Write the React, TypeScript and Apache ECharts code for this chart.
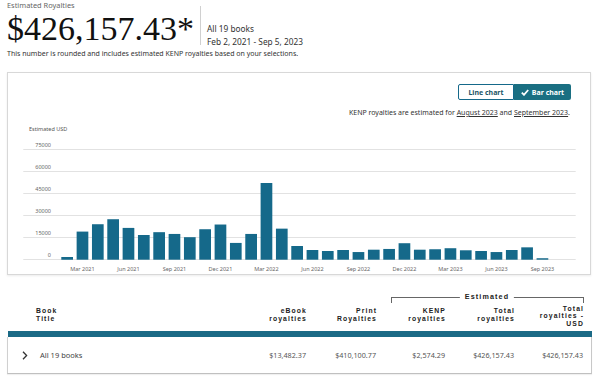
import React, { useEffect, useRef } from "react";
import * as echarts from "echarts";

const months = [
  "Feb 2021", "Mar 2021", "Apr 2021", "May 2021", "Jun 2021", "Jul 2021", "Aug 2021", "Sep 2021",
  "Oct 2021", "Nov 2021", "Dec 2021", "Jan 2022", "Feb 2022", "Mar 2022", "Apr 2022", "May 2022",
  "Jun 2022", "Jul 2022", "Aug 2022", "Sep 2022", "Oct 2022", "Nov 2022", "Dec 2022", "Jan 2023",
  "Feb 2023", "Mar 2023", "Apr 2023", "May 2023", "Jun 2023", "Jul 2023", "Aug 2023", "Sep 2023",
];
const royalties = [
  1800, 19100, 24100, 27500, 21600, 16800, 18700, 17500,
  15300, 20700, 23900, 11400, 17500, 52100, 21100, 9300,
  6600, 5900, 6600, 5200, 6800, 7300, 11200, 6800,
  7100, 7800, 6400, 5900, 5200, 6600, 8400, 1000,
];
const tickLabels = [
  "Mar 2021", "Jun 2021", "Sep 2021", "Dec 2021", "Mar 2022", "Jun 2022",
  "Sep 2022", "Dec 2022", "Mar 2023", "Jun 2023", "Sep 2023",
];
const yTicks = [0, 15000, 30000, 45000, 60000, 75000];

const tableHeaders = [
  { lines: ["eBook", "royalties"], right: 306 },
  { lines: ["Print", "Royalties"], right: 376 },
  { lines: ["KENP", "royalties"], right: 445 },
  { lines: ["Total", "royalties"], right: 514 },
  { lines: ["Total", "royalties -", "USD"], right: 583 },
];
const rowValues = ["$13,482.37", "$410,100.77", "$2,574.29", "$426,157.43", "$426,157.43"];

const TEAL = "#15698a";
const UI_FONT = "'Noto Sans', 'Open Sans', sans-serif";
const HEAD_FONT = "'Liberation Sans', Arial, sans-serif";

function Chart() {
  const ref = useRef<HTMLDivElement>(null);
  useEffect(() => {
    if (!ref.current) return;
    const chart = echarts.init(ref.current, null, { renderer: "svg" });
    const tickIdx = tickLabels.map((t) => months.indexOf(t));
    chart.setOption({
      animation: false,
      title: {
        text: "Estimated USD",
        left: 21,
        top: 53,
        padding: 0,
        textStyle: { fontSize: 5.5, color: "#555", fontWeight: "normal", fontFamily: UI_FONT },
      },
      grid: { left: 15.3, right: 14.3, top: 76.3, bottom: 14.3, containLabel: false },
      xAxis: {
        type: "value",
        min: -2.86,
        max: 33.17,
        splitLine: { show: false },
        axisLine: { show: false },
        axisTick: { show: false },
        axisLabel: {
          customValues: tickIdx,
          formatter: (v: number) => months[Math.round(v)] ?? "",
          fontSize: 5.5,
          color: "#666",
          margin: 6,
          fontFamily: UI_FONT,
        },
      },
      yAxis: {
        type: "value",
        min: yTicks[0],
        max: yTicks[yTicks.length - 1],
        interval: yTicks[1] - yTicks[0],
        axisLine: { show: false },
        axisTick: { show: false },
        splitLine: { lineStyle: { color: "#e2e2e2", width: 1 } },
        axisLabel: {
          inside: true,
          margin: 27.7,
          align: "right",
          verticalAlign: "bottom",
          padding: [0, 0, 1.5, 0],
          fontSize: 5.5,
          color: "#666",
          fontFamily: UI_FONT,
          formatter: (v: number) => String(v),
        },
      },
      series: [
        {
          type: "bar",
          data: royalties.map((v, i) => [i, v]),
          barWidth: 11.7,
          itemStyle: { color: TEAL },
        },
      ],
    });
    return () => chart.dispose();
  }, []);
  return <div ref={ref} style={{ position: "absolute", left: 0, top: 0, width: 582, height: 201 }} />;
}

const abs = (s: React.CSSProperties): React.CSSProperties => ({ position: "absolute", whiteSpace: "nowrap", ...s });

const headStyle: React.CSSProperties = {
  fontFamily: HEAD_FONT,
  fontSize: 6.8,
  lineHeight: "7.6px",
  fontWeight: 700,
  letterSpacing: 1.1,
  color: "#222",
};

export default function App() {
  return (
    <div
      style={{
        position: "absolute",
        left: 0,
        top: 0,
        width: 600,
        height: 382,
        overflow: "hidden",
        background: "#fff",
        fontFamily: UI_FONT,
        color: "#222",
      }}
    >
      {/* Header */}
      <div style={abs({ left: 7, top: 0.2, fontSize: 7.4, lineHeight: "10px", color: "#666" })}>Estimated Royalties</div>
      <div
        style={abs({
          left: 7,
          top: 12.2,
          fontSize: 34,
          lineHeight: "34px",
          fontFamily: "'Liberation Serif', 'DejaVu Serif', serif",
          color: "#111",
        })}
      >
        $426,157.43*
      </div>
      <div style={abs({ left: 200, top: 6, width: 1, height: 39, background: "#d0d0d0" })} />
      <div style={abs({ left: 207, top: 22.5, fontSize: 8.3, lineHeight: "11px", color: "#333" })}>All 19 books</div>
      <div style={abs({ left: 207, top: 36, fontSize: 8.3, lineHeight: "11px", color: "#333" })}>
        Feb 2, 2021 - Sep 5, 2023
      </div>
      <div style={abs({ left: 7, top: 49, fontSize: 7, lineHeight: "10px", color: "#333" })}>
        This number is rounded and includes estimated KENP royalties based on your selections.
      </div>

      {/* Chart card */}
      <div
        style={abs({
          left: 7,
          top: 72,
          width: 584,
          height: 203,
          boxSizing: "border-box",
          border: "1px solid #d8d8d8",
          boxShadow: "0 1px 2px rgba(0,0,0,0.08)",
        })}
      >
        <Chart />
        {/* Toggle buttons */}
        <div
          style={abs({
            left: 450,
            top: 11,
            width: 56,
            height: 16,
            boxSizing: "border-box",
            border: `1px solid ${TEAL}`,
            borderRadius: "2px 0 0 2px",
            fontSize: 7,
            fontWeight: 700,
            color: "#1d5566",
            display: "flex",
            alignItems: "center",
            justifyContent: "center",
            background: "#fff",
          })}
        >
          Line chart
        </div>
        <div
          style={abs({
            left: 506,
            top: 11,
            width: 57,
            height: 16,
            boxSizing: "border-box",
            borderRadius: "0 2px 2px 0",
            fontSize: 7,
            fontWeight: 700,
            color: "#fff",
            display: "flex",
            alignItems: "center",
            justifyContent: "center",
            background: "#1a6f82",
            gap: 3,
          })}
        >
          <svg width="8" height="7" viewBox="0 0 8 7">
            <polyline points="0.8,3.6 3,5.8 7.2,1" fill="none" stroke="#fff" strokeWidth="1.8" />
          </svg>
          Bar chart
        </div>
        <div style={abs({ right: 20, top: 35, fontSize: 7, lineHeight: "10px", color: "#333" })}>
          KENP royalties are estimated for <span style={{ textDecoration: "underline" }}>August 2023</span> and{" "}
          <span style={{ textDecoration: "underline" }}>September 2023</span>.
        </div>
      </div>

      {/* Table header */}
      <div
        style={abs({
          left: 391,
          top: 296.5,
          width: 193,
          height: 6,
          boxSizing: "border-box",
          borderTop: "1px solid #666",
          borderLeft: "1px solid #666",
          borderRight: "1px solid #666",
        })}
      />
      <div
        style={abs({
          ...headStyle,
          left: 487,
          top: 293,
          transform: "translateX(-50%)",
          background: "#fff",
          padding: "0 5px",
          fontSize: 7.2,
          lineHeight: "8px",
        })}
      >
        Estimated
      </div>
      <div style={abs({ ...headStyle, left: 36, top: 307.4 })}>
        <div>Book</div>
        <div>Title</div>
      </div>
      {tableHeaders.map((h, i) => (
        <div
          key={i}
          style={abs({
            ...headStyle,
            right: 600 - h.right - 1,
            top: h.lines.length === 3 ? 304.5 : 307.4,
            textAlign: "right",
          })}
        >
          {h.lines.map((l, j) => (
            <div key={j}>{l}</div>
          ))}
        </div>
      ))}

      {/* Teal band */}
      <div style={abs({ left: 8, top: 331, width: 584, height: 6, background: "#1b6a86" })} />

      {/* Row */}
      <div
        style={abs({
          left: 7,
          top: 337,
          width: 585,
          height: 37,
          boxSizing: "border-box",
          borderLeft: "1px solid #d0d0d0",
          borderRight: "1px solid #c8c8c8",
          borderBottom: "1px solid #c0c0c0",
          boxShadow: "0 1px 1px rgba(0,0,0,0.06)",
        })}
      />
      <svg style={{ position: "absolute", left: 22, top: 351 }} width="6" height="9" viewBox="0 0 6 9">
        <polyline points="1,0.8 4.6,4.5 1,8.2" fill="none" stroke="#333" strokeWidth="1.3" />
      </svg>
      <div style={abs({ left: 40, top: 350, fontSize: 7.5, lineHeight: "10px", color: "#444" })}>All 19 books</div>
      {rowValues.map((v, i) => (
        <div
          key={i}
          style={abs({
            right: 600 - tableHeaders[i].right,
            top: 350,
            fontSize: 7.2,
            lineHeight: "10px",
            color: "#555",
            textAlign: "right",
          })}
        >
          {v}
        </div>
      ))}
    </div>
  );
}
